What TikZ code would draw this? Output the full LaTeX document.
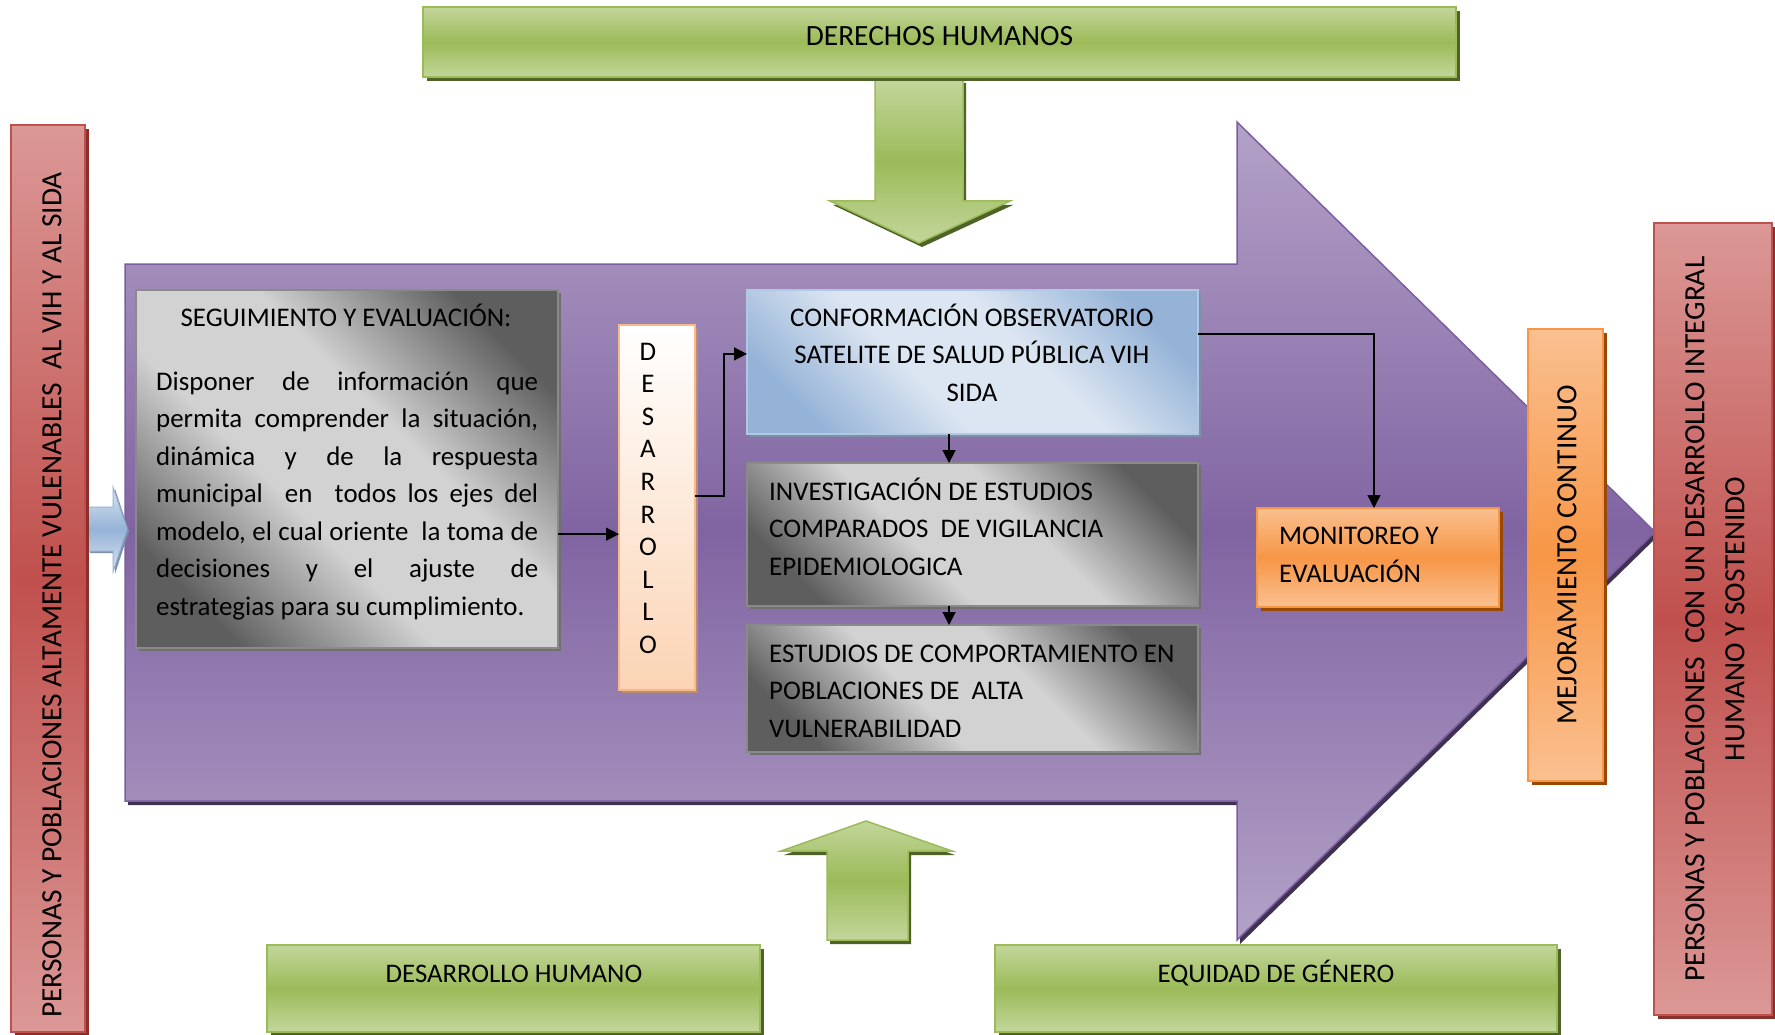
\documentclass[tikz,border=0pt]{standalone}
\usepackage{fontspec}
\setmainfont{Carlito}
\usetikzlibrary{arrows.meta,shadows,calc}

\definecolor{grnL}{HTML}{C3D69B}
\definecolor{grnM}{HTML}{9BBB59}
\definecolor{grnB}{HTML}{9BBB59}
\definecolor{grnS}{HTML}{4F6228}
\definecolor{redL}{HTML}{DB9896}
\definecolor{redM}{HTML}{C0504D}
\definecolor{redS}{HTML}{8B2F2D}
\definecolor{orgL}{HTML}{FAC090}
\definecolor{orgM}{HTML}{F79646}
\definecolor{orgS}{HTML}{984807}
\definecolor{purL}{HTML}{B3A2C7}
\definecolor{purM}{HTML}{8064A2}
\definecolor{purB}{HTML}{7B5EA0}
\definecolor{purS}{HTML}{3F3151}
\definecolor{gryD}{HTML}{5E5E5E}
\definecolor{gryL}{HTML}{D2D2D2}
\definecolor{gryB}{HTML}{8A8A8A}
\definecolor{gryS}{HTML}{707070}
\definecolor{bluD}{HTML}{95B3D7}
\definecolor{bluL}{HTML}{DCE6F2}
\definecolor{bluB}{HTML}{B0C8E4}
\definecolor{bluS}{HTML}{7F8FA8}
\definecolor{peach}{HTML}{FBD4B4}
\definecolor{peachB}{HTML}{F9B98A}
\definecolor{peachS}{HTML}{B98E78}

% diagonal bands: dark corners, wide light centre
\pgfdeclareverticalshading{grayband}{100bp}{color(0bp)=(gryD); color(24bp)=(gryD);
  color(42bp)=(gryL); color(58bp)=(gryL); color(76bp)=(gryD); color(100bp)=(gryD)}
\pgfdeclareverticalshading{blueband}{100bp}{color(0bp)=(bluD); color(24bp)=(bluD);
  color(42bp)=(bluL); color(58bp)=(bluL); color(76bp)=(bluD); color(100bp)=(bluD)}

\begin{document}
\begin{tikzpicture}[x=1pt,y=-1pt,
  box/.style={rectangle, inner sep=0pt, outer sep=0pt, line width=1.5pt},
  greenbox/.style={box, draw=grnB, top color=grnL, bottom color=grnL, middle color=grnM,
    general shadow={fill=grnS, shadow xshift=4pt, shadow yshift=-4pt}},
  redbox/.style={box, draw=redM, top color=redL, bottom color=redL, middle color=redM,
    general shadow={fill=redS, shadow xshift=4pt, shadow yshift=-4pt}},
  orangebox/.style={box, draw=orgM, top color=orgL, bottom color=orgL, middle color=orgM,
    general shadow={fill=orgS, shadow xshift=4pt, shadow yshift=-4pt}},
  graybox/.style={box, draw=gryB, shade, shading=grayband, shading angle=-45,
    general shadow={fill=gryS, shadow xshift=3pt, shadow yshift=-3pt}},
  bluebox/.style={box, draw=bluB, shade, shading=blueband, shading angle=-45,
    general shadow={fill=bluS, shadow xshift=3pt, shadow yshift=-3pt}},
  peachbox/.style={box, draw=peachB, top color=white, bottom color=peach,
    general shadow={fill=peachS, shadow xshift=3pt, shadow yshift=-3pt}},
  greenarrow/.style={line width=1.5pt, draw=grnB, top color=grnL, bottom color=grnL, middle color=grnM,
    general shadow={fill=grnS, shadow xshift=3pt, shadow yshift=-4pt}},
  lbl/.style={inner sep=0pt, text=black, font=\fontsize{26.9}{37.5}\selectfont},
  biglbl/.style={inner sep=0pt, text=black, font=\fontsize{29.4}{40}\selectfont},
  conn/.style={line width=1.5pt, -{Triangle[length=13pt,width=13pt]}},
]
\fill[white] (0,0) rectangle (1775,1035);
\useasboundingbox (0,0) rectangle (1775,1035);

% large purple block arrow carrying the model
\path[line width=1.5pt, draw=purB, top color=purL, bottom color=purL, middle color=purM,
      general shadow={fill=purS, shadow xshift=3pt, shadow yshift=-4pt}]
  (125,264) -- (1237,264) -- (1237,122) -- (1655,532) -- (1237,940) -- (1237,801) -- (125,801) -- cycle;

% green block arrows from the cross-cutting axes
\path[greenarrow] (875,79) -- (963,79) -- (963,201) -- (1010,201) -- (919,243) -- (830,201) -- (875,201) -- cycle;
\path[greenarrow] (827,940) -- (908,940) -- (908,851) -- (952,851) -- (866,821) -- (781,851) -- (827,851) -- cycle;

% small blue entry arrow
\path[line width=1pt, draw=bluD, top color=bluL, bottom color=bluL, middle color=bluD,
      general shadow={fill=bluS, shadow xshift=2pt, shadow yshift=-2pt}]
  (88,507) -- (113,507) -- (113,487) -- (127,529) -- (113,572) -- (113,551) -- (88,551) -- cycle;

% boxes
\node[redbox, minimum width=74pt, minimum height=907pt] (leftred) at (48,578.5) {};
\node[redbox, minimum width=118pt, minimum height=792pt] (rightred) at (1713,619) {};
\node[greenbox, minimum width=1033pt, minimum height=70pt] (derechos) at (939.5,42) {};
\node[greenbox, minimum width=493pt, minimum height=87pt] (deshum) at (513.5,988.5) {};
\node[greenbox, minimum width=562pt, minimum height=87pt] (equidad) at (1276,988.5) {};
\node[graybox, minimum width=422pt, minimum height=358pt] (seguimiento) at (347,469) {};
\node[peachbox, minimum width=76pt, minimum height=365pt] (desarrollo) at (657,507.5) {};
\node[bluebox, minimum width=451pt, minimum height=144pt] (conform) at (972.5,362) {};
\node[graybox, minimum width=451pt, minimum height=143pt] (investig) at (972.5,534.5) {};
\node[graybox, minimum width=451pt, minimum height=127pt] (estudios) at (972.5,688.5) {};
\node[orangebox, minimum width=242pt, minimum height=99pt] (monitoreo) at (1378,557.5) {};
\node[orangebox, minimum width=75pt, minimum height=452pt] (mejora) at (1565.5,555) {};

% texts (multi-line nodes are anchored on the baseline of their last line)
\node[biglbl, anchor=base] (tDer) at (939.5,46) {DERECHOS HUMANOS};
\node[lbl, anchor=base, font=\fontsize{26.8}{37.5}\selectfont] (tDH) at (514,982) {DESARROLLO HUMANO};
\node[lbl, anchor=base, font=\fontsize{26.8}{37.5}\selectfont] (tEq) at (1276,982) {EQUIDAD DE GÉNERO};
\node[biglbl, rotate=90] (tLeft) at (52,595) {PERSONAS Y POBLACIONES ALTAMENTE VULENABLES\ \ AL VIH Y AL SIDA};
\node[biglbl, rotate=90, align=center] (tRight) at (1715,619)
  {PERSONAS Y POBLACIONES\ \ CON UN DESARROLLO INTEGRAL\\HUMANO Y SOSTENIDO};
\node[biglbl, rotate=90] (tMej) at (1567,555) {MEJORAMIENTO CONTINUO};
\node[lbl, anchor=base] (tSegT) at (346,326) {SEGUIMIENTO Y EVALUACIÓN:};
\node[lbl, anchor=base west, text width=382pt, align=justify] (tSegB) at (156,390)
  {\tolerance=10000 \hbadness=10000
   Disponer de información que\linebreak
   permita comprender la situación,\linebreak
   dinámica y de la respuesta\linebreak
   municipal\ \ en\ \ todos los ejes del\linebreak
   modelo, el cual oriente\ \ la toma de\linebreak
   decisiones y el ajuste de\linebreak
   estrategias para su cumplimiento.};
\node[lbl, anchor=base, align=center, font=\fontsize{26.9}{32.6}\selectfont] (tDes) at (648,653.4)
  {D\\E\\S\\A\\R\\R\\O\\L\\L\\O};
\node[lbl, anchor=base, align=center] (tConf) at (972,401)
  {CONFORMACIÓN OBSERVATORIO\\SATELITE DE SALUD PÚBLICA VIH\\SIDA};
\node[lbl, anchor=base west, align=left] (tInv) at (769,575)
  {INVESTIGACIÓN DE ESTUDIOS\\COMPARADOS\ \ DE VIGILANCIA\\EPIDEMIOLOGICA};
\node[lbl, anchor=base west, align=left] (tEst) at (769,737)
  {ESTUDIOS DE COMPORTAMIENTO EN\\POBLACIONES DE\ \ ALTA\\VULNERABILIDAD};
\node[lbl, anchor=base west, align=left] (tMon) at (1279,582)
  {MONITOREO Y\\EVALUACIÓN};

% connectors
\coordinate (s1) at ($(seguimiento.north east)!0.682!(seguimiento.south east)$);
\draw[conn] (s1) -- (s1 -| desarrollo.west);
\coordinate (d1) at ($(desarrollo.north east)!0.468!(desarrollo.south east)$);
\coordinate (c1) at ($(conform.north west)!0.444!(conform.south west)$);
\draw[conn] (d1) -- ++(29,0) |- (c1);
\coordinate (c2) at ($(conform.south west)!0.448!(conform.south east)$);
\draw[conn] (c2) -- (c2 |- investig.north);
\coordinate (i2) at ($(investig.south west)!0.448!(investig.south east)$);
\draw[conn] (i2) -- (i2 |- estudios.north);
\coordinate (c3) at ($(conform.north east)!0.306!(conform.south east)$);
\coordinate (m1) at ($(monitoreo.north)+(-4,0)$);
\draw[conn] (c3) -| (m1);
\end{tikzpicture}
\end{document}
